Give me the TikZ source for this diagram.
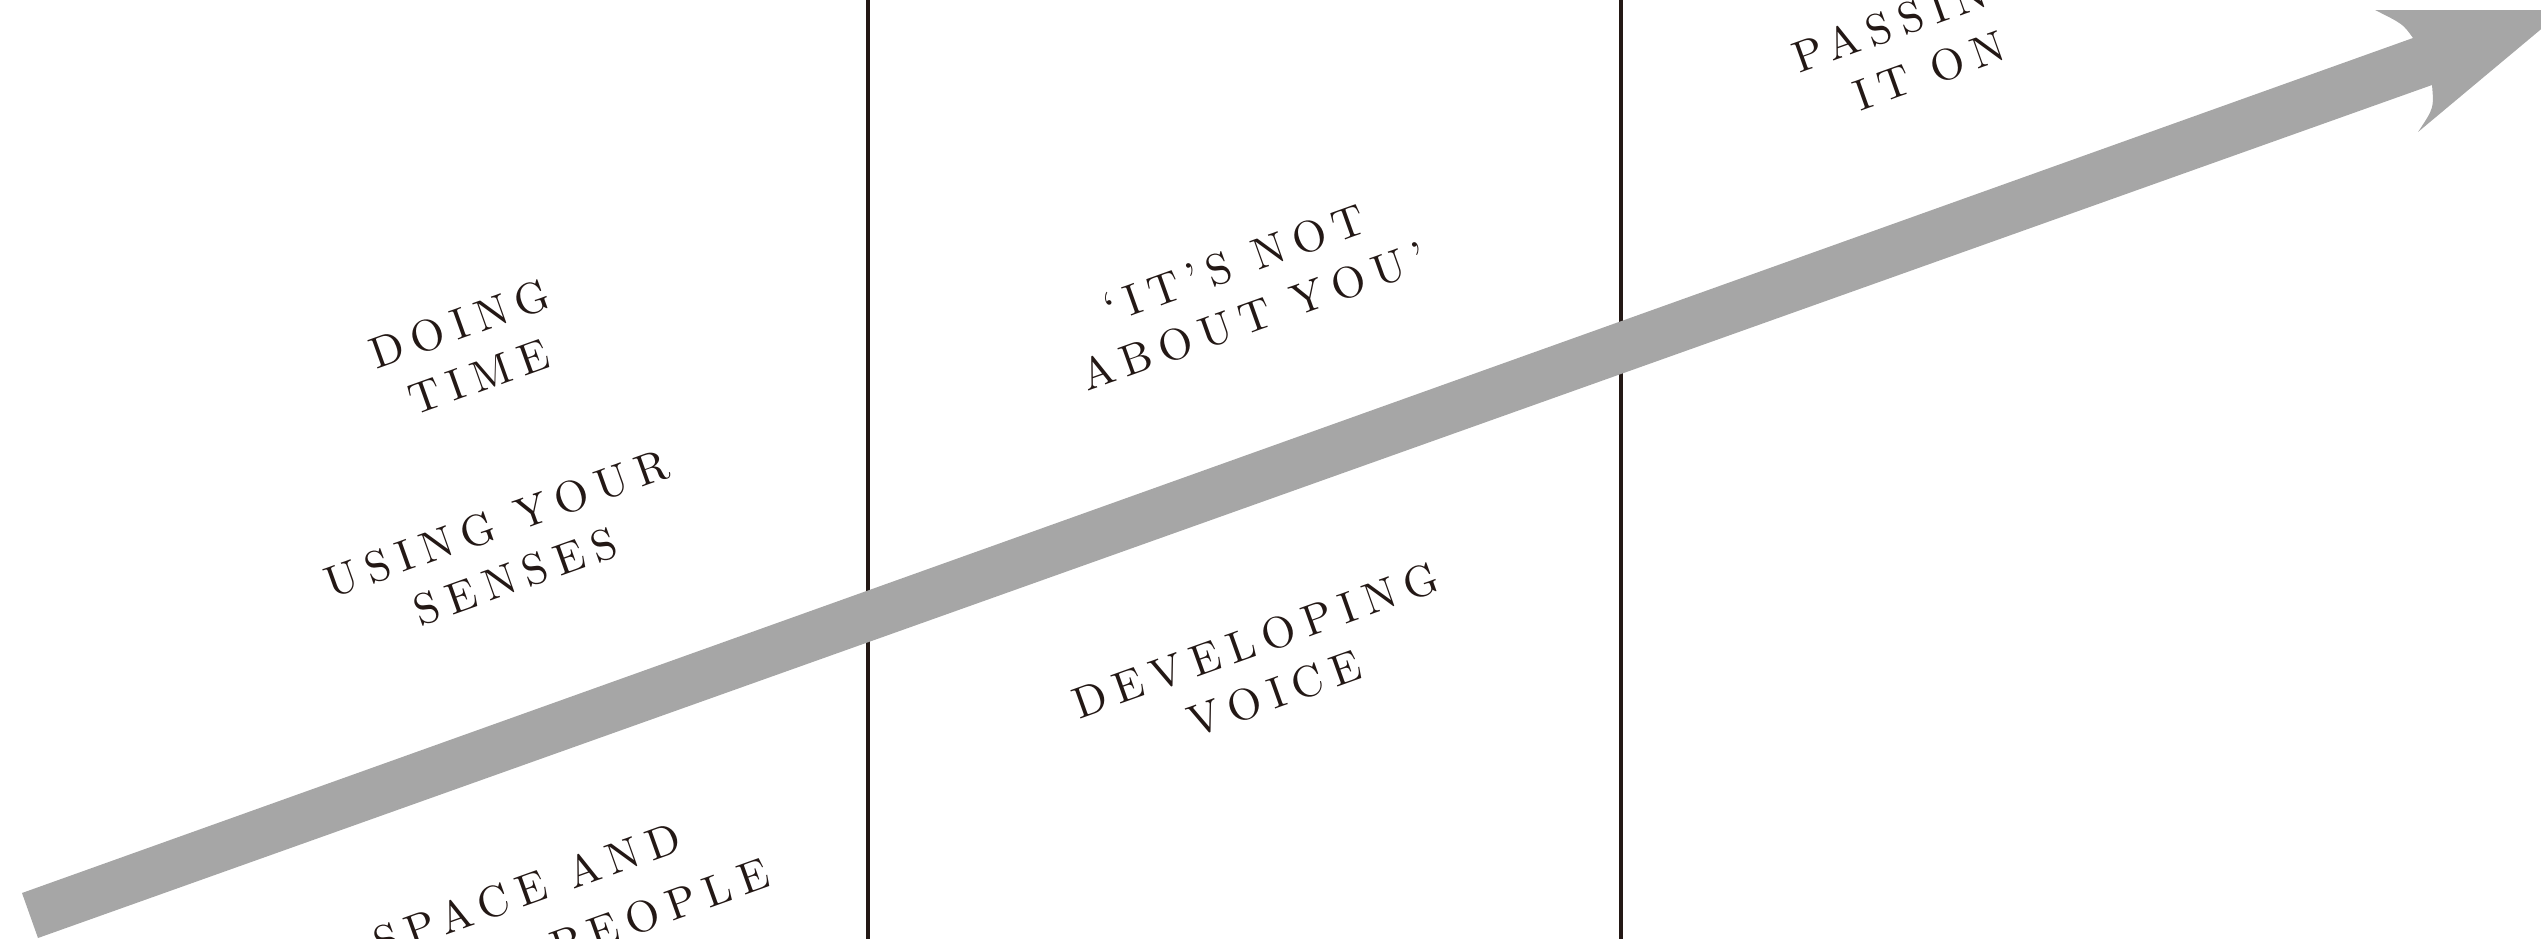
\documentclass[tikz,border=0pt]{standalone}
\usepackage{fontspec}
\newfontfamily\lblfont{lmroman10-regular.otf}[LetterSpace=21]
\definecolor{ink}{HTML}{231815}
\definecolor{arrowgray}{HTML}{A6A6A6}
\tikzset{
  lbl/.style={text=ink, align=center, rotate=19.67, inner sep=0pt,
    font=\lblfont\fontsize{12.5}{16}\selectfont},
  divider/.style={draw=ink, line width=0.04cm},
  bigarrow/.style={fill=arrowgray, draw=none},
}
\begin{document}
\begin{tikzpicture}[x=0.01cm,y=-0.01cm]
\path[use as bounding box] (0,0) rectangle (2541,939);
\clip (0,0) rectangle (2541,939);
% dividers
\coordinate (d1t) at (867.5,-10);
\coordinate (d1b) at (867.5,950);
\coordinate (d2t) at (1620.5,-10);
\coordinate (d2b) at (1620.5,950);
\draw[divider] (d1t) -- (d1b);
\draw[divider] (d2t) -- (d2b);
% arrow
\coordinate (tailtop) at (22,893);
\coordinate (tailbot) at (38,938);
\coordinate (notchtop) at (2413,38);
\coordinate (backtop) at (2375,10);
\coordinate (tip) at (2564,10);
\coordinate (backbot) at (2418,132);
\coordinate (notchbot) at (2432,85);
\fill[bigarrow] (tailtop) -- (notchtop)
  .. controls (2403,24) .. (backtop)
  -- (tip) -- (backbot)
  .. controls (2434,108) .. (notchbot)
  -- (tailbot) -- cycle;
% labels
\node[lbl] (doing) at (469,350) {DOING\\TIME};
\node[lbl] (senses) at (506,550) {USING YOUR\\SENSES};
\node[lbl] (spaceand) at (527,890) {SPACE AND};
\node[lbl] (people) at (660,910) {PEOPLE};
\node[lbl] (notyou) at (1244,290) {‘IT’S NOT\\ABOUT YOU’};
\node[lbl] (voice) at (1265,667) {DEVELOPING\\VOICE};
\node[lbl] (passing) at (1920,44) {PASSING\\IT ON};
\end{tikzpicture}
\end{document}
